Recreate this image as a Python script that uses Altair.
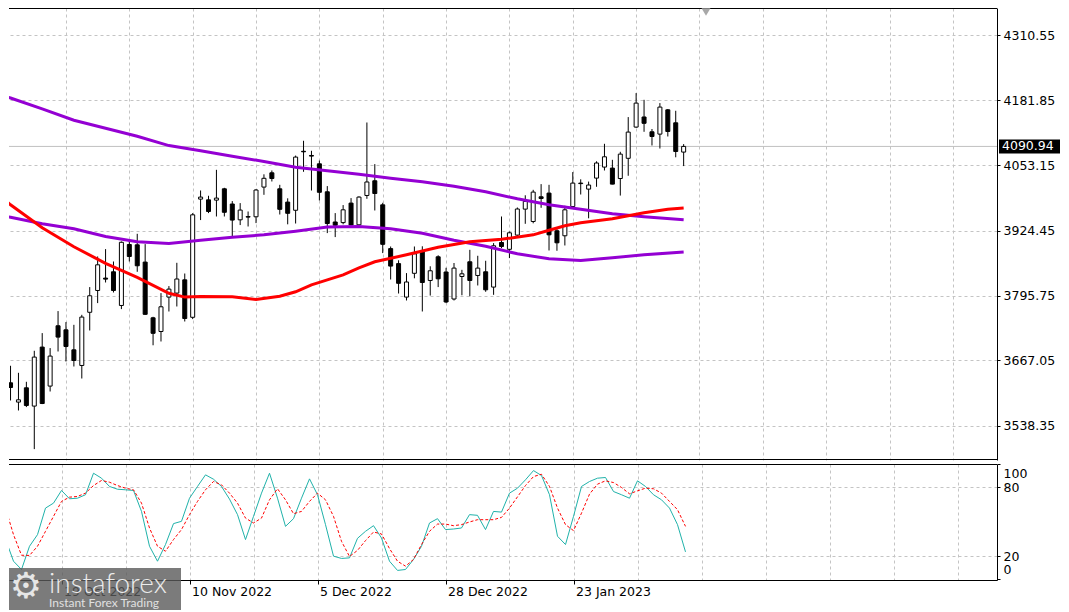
import altair as alt
import pandas as pd

# ---------------- data ----------------
bar_idx = list(range(86))
opens = [3622.9, 3584.7, 3613.0, 3576.8, 3693.6, 3616.4, 3735.8, 3727.8, 3688.2, 3657.2,
         3762.5, 3805.7, 3830.2, 3842.7, 3776.0, 3896.7, 3896.1, 3861.9, 3751.6, 3724.5,
         3792.6, 3800.5, 3826.8, 3752.6, 3986.6, 3985.2, 3984.6, 4007.0, 3976.9, 3945.6,
         3952.0, 3951.6, 4010.4, 4038.7, 4007.0, 3980.7, 3964.5, 4081.3, 4073.0, 4056.5,
         4001.1, 3941.3, 3940.1, 3978.7, 3935.7, 3993.8, 4022.9, 3975.3, 3888.6, 3858.9,
         3792.6, 3839.7, 3884.3, 3825.5, 3872.4, 3842.3, 3788.8, 3833.4, 3862.5, 3835.4,
         3842.7, 3812.4, 3900.7, 3887.2, 3915.3, 3966.8, 3942.3, 3991.2, 3998.5, 3923.9,
         3914.0, 3972.0, 4018.3, 4006.4, 4028.2, 4050.0, 4048.0, 4027.4, 4067.4, 4129.2,
         4149.2, 4119.9, 4115.3, 4163.4, 4137.7, 4079.7]
highs = [3656.6, 3642.7, 3624.9, 3686.3, 3721.3, 3691.6, 3764.9, 3743.1, 3737.7, 3757.5,
         3812.4, 3873.0, 3887.6, 3863.1, 3902.7, 3906.0, 3917.9, 3897.5, 3753.6, 3800.5,
         3814.4, 3860.5, 3839.3, 3958.9, 4003.7, 3993.2, 4044.6, 4009.0, 3982.7, 3978.7,
         3962.1, 4006.4, 4035.7, 4043.3, 4014.9, 3988.2, 4072.8, 4102.1, 4082.3, 4062.9,
         4012.4, 3958.9, 3974.8, 3988.6, 3992.2, 4138.3, 4055.9, 3979.3, 3892.8, 3865.5,
         3840.1, 3892.8, 3893.2, 3853.6, 3875.4, 3850.6, 3860.1, 3846.6, 3886.2, 3874.4,
         3864.5, 3899.5, 3952.2, 3922.5, 3970.0, 3994.2, 4005.0, 4016.3, 4014.9, 3929.8,
         3973.4, 4040.1, 4025.8, 4021.3, 4061.5, 4096.1, 4064.4, 4080.3, 4149.0, 4196.5,
         4183.2, 4125.4, 4176.7, 4165.0, 4161.5, 4095.5]
lows = [3587.9, 3568.1, 3574.8, 3491.6, 3580.7, 3605.7, 3684.9, 3665.1, 3655.2, 3631.4,
        3726.5, 3780.7, 3821.5, 3801.7, 3768.8, 3863.1, 3842.7, 3757.5, 3697.2, 3704.7,
        3764.1, 3774.0, 3744.3, 3749.0, 3945.1, 3958.9, 3952.2, 3952.2, 3913.4, 3935.2,
        3932.4, 3939.1, 3995.1, 4021.5, 3956.1, 3936.7, 3938.3, 4040.7, 4003.6, 3983.9,
        3919.3, 3911.4, 3936.7, 3933.8, 3933.8, 3987.2, 3964.1, 3879.7, 3827.4, 3799.7,
        3785.9, 3829.8, 3764.1, 3795.6, 3812.4, 3780.7, 3785.9, 3796.2, 3794.2, 3815.6,
        3803.1, 3797.1, 3889.6, 3869.8, 3911.0, 3937.7, 3938.7, 3969.4, 3884.9, 3884.3,
        3894.8, 3968.4, 3995.7, 3948.6, 4011.0, 4043.3, 4015.9, 3993.6, 4032.8, 4127.8,
        4119.9, 4092.8, 4086.8, 4110.6, 4069.4, 4052.0]
closes = [3613.6, 3589.2, 3578.0, 3673.8, 3581.9, 3675.8, 3713.4, 3694.8, 3667.1, 3753.0,
          3795.2, 3856.5, 3828.2, 3805.7, 3901.1, 3873.0, 3854.6, 3758.5, 3720.9, 3773.4,
          3808.4, 3828.4, 3750.2, 3955.5, 3990.6, 3962.1, 3988.6, 3960.5, 3945.1, 3964.9,
          3951.0, 4004.6, 4027.8, 4027.4, 3966.4, 3958.5, 4069.8, 4080.3, 4071.8, 4000.1,
          3938.3, 3934.8, 3965.4, 3935.3, 3990.6, 4020.5, 3997.7, 3897.1, 3854.0, 3819.9,
          3822.5, 3878.3, 3821.5, 3844.7, 3828.8, 3782.9, 3850.0, 3838.7, 3825.5, 3850.0,
          3807.0, 3894.2, 3892.8, 3919.9, 3967.0, 3981.9, 4000.5, 3987.8, 3915.9, 3900.1,
          3965.4, 4018.3, 4017.3, 4014.5, 4058.1, 4070.4, 4016.3, 4075.7, 4119.3, 4176.7,
          4136.7, 4110.6, 4168.8, 4120.5, 4080.9, 4090.94]

red_idx = [-1, 0, 4, 8, 12, 16, 20, 22, 24, 28, 31, 34, 36, 38, 40, 42, 44, 46, 50, 54,
           58, 62, 66, 68, 70, 72, 76, 80, 83, 85]
red_ma = [3989.2, 3975.3, 3929.8, 3892.2, 3859.5, 3831.8, 3800.1, 3792.6, 3793.8, 3793.2,
          3787.8, 3794.2, 3803.1, 3816.9, 3826.8, 3836.7, 3850.6, 3862.5, 3876.3, 3891.2,
          3902.1, 3907.0, 3915.9, 3924.9, 3933.8, 3939.7, 3947.6, 3959.5, 3966.4, 3968.8]

purple_idx = [-1, 0, 4, 8, 12, 16, 20, 24, 28, 32, 36, 40, 44, 48, 52, 56, 60, 64, 68, 72,
              76, 80, 85]
purple_upper = [4192.2, 4186.8, 4165.4, 4142.7, 4126.8, 4111.0, 4092.6, 4082.3, 4071.4,
                4061.1, 4049.6, 4042.7, 4035.7, 4027.8, 4020.9, 4012.0, 4001.1, 3987.2,
                3975.3, 3966.4, 3957.5, 3951.6, 3945.6]
purple_lower = [3953.6, 3950.6, 3937.7, 3927.8, 3912.6, 3902.1, 3898.5, 3905.1, 3911.0,
                3915.9, 3922.9, 3931.2, 3932.4, 3927.8, 3918.9, 3905.1, 3893.2, 3878.3,
                3868.4, 3865.1, 3870.4, 3876.3, 3881.7]

sto_idx = list(range(-1, 86))
sto_main = [56.4, 35.0, 15.9, 8.7, 28.9, 39.0, 62.1, 66.4, 77.4, 70.2,
            70.7, 73.7, 92.4, 88.1, 80.9, 78.5, 78.0, 77.4, 59.2, 28.9,
            15.9, 30.4, 48.6, 50.6, 70.7, 80.9, 91.0, 87.2, 80.9, 69.9,
            56.4, 34.7, 54.9, 75.1, 92.4, 70.7, 46.2, 52.9, 70.7, 87.5,
            73.7, 47.7, 20.3, 18.3, 18.8, 35.8, 41.9, 46.8, 36.1, 15.9,
            7.9, 8.7, 17.4, 28.9, 49.1, 52.9, 43.4, 43.9, 44.8, 56.4,
            55.8, 43.4, 59.2, 58.6, 75.1, 79.4, 86.7, 94.7, 90.4, 73.7,
            37.6, 30.4, 54.9, 80.9, 85.2, 88.1, 88.7, 76.5, 73.7, 70.7,
            85.8, 80.9, 73.7, 69.3, 62.1, 47.7, 24.0]
sto_signal = [73.7, 62.1, 39.0, 21.1, 20.9, 28.9, 41.9, 54.9, 67.9, 71.6,
              72.2, 75.1, 81.7, 86.1, 84.6, 81.7, 79.4, 78.0, 66.4, 44.8,
              28.9, 24.6, 34.7, 43.4, 56.4, 67.9, 78.0, 85.2, 82.3, 75.1,
              66.4, 53.4, 49.1, 53.4, 69.3, 78.9, 69.3, 57.2, 59.2, 67.9,
              75.1, 69.3, 54.9, 33.2, 20.0, 25.3, 33.8, 41.3, 39.6, 26.9,
              15.9, 11.6, 17.4, 30.4, 41.9, 48.2, 48.2, 46.8, 47.7, 50.0,
              52.0, 52.0, 52.0, 54.0, 62.1, 71.9, 81.7, 89.5, 91.5, 80.9,
              62.1, 47.7, 42.5, 57.7, 74.2, 82.9, 85.8, 84.3, 80.0, 74.5,
              77.1, 79.4, 78.9, 75.1, 67.9, 60.7, 46.2]

price_ticks = [3538.35, 3667.05, 3795.75, 3924.45, 4053.15, 4181.85, 4310.55]
sto_ticks = [0, 20, 80, 100]
grid_idx = list(range(7, 124, 8))
date_idx = [7, 23, 39, 55, 71]
date_labels = ["19 Oct 2022", "10 Nov 2022", "5 Dec 2022", "28 Dec 2022", "23 Jan 2023"]
last_price = 4090.94

# ---------------- layout / style ----------------
FONT = "DejaVu Sans"
FS = 12.5
W, HM, HS = 988, 452, 116
GRID = "#c4c4c4"

xs = alt.Scale(domain=[0.4375, 123.9375], nice=False, zero=False)
ys = alt.Scale(domain=[3470.04, 4365.0], nice=False, zero=False)
ss = alt.Scale(domain=[-0.44, 100.43], nice=False, zero=False)

grid_kw = dict(gridColor=GRID, gridDash=[3, 3], gridWidth=1)

x_main_axis = alt.Axis(values=grid_idx, grid=True, labels=False, ticks=False,
                       domain=False, title=None, **grid_kw)
y_main_axis = alt.Axis(orient="right", values=price_ticks, format=".2f", grid=True,
                       domain=True, domainColor="black", ticks=True, tickSize=3,
                       tickColor="black", labelPadding=3, labelFont=FONT,
                       labelFontSize=FS, labelColor="black", title=None,
                       labelFlush=False, labelOverlap=False, **grid_kw)

label_expr = "".join(f"datum.value == {v} ? '{t}' : " for v, t in zip(date_idx, date_labels)) + "''"
date_test = "indexof([" + ",".join(str(v) for v in date_idx) + "], datum.value) >= 0"

x_sto_axis = alt.Axis(values=grid_idx, grid=True, labels=True, labelExpr=label_expr,
                      labelAlign="left", labelBaseline="top", labelOffset=2, labelPadding=1,
                      labelFont=FONT, labelFontSize=FS, labelColor="black",
                      ticks=True, tickSize=4, tickColor="black",
                      tickOpacity={"condition": {"test": date_test, "value": 1}, "value": 0},
                      domain=True, domainColor="black", title=None,
                      labelFlush=False, labelOverlap=False, labelBound=False, **grid_kw)
y_sto_axis = alt.Axis(orient="right", values=sto_ticks, format="d", grid=True,
                      gridOpacity={"condition": {"test": "datum.value == 20 || datum.value == 80",
                                                 "value": 1}, "value": 0},
                      domain=True, domainColor="black", ticks=True, tickSize=3,
                      tickColor="black", labelPadding=3, labelFont=FONT,
                      labelFontSize=FS, labelColor="black", title=None,
                      labelFlush=2, labelFlushOffset=-3, labelOverlap=False,
                      gridColor=GRID, gridDash=[3, 3], gridWidth=1)

X = alt.X("i:Q", scale=xs, axis=x_main_axis)
XS = alt.X("i:Q", scale=xs, axis=x_sto_axis)

candles = pd.DataFrame({"i": bar_idx, "open": opens, "high": highs,
                        "low": lows, "close": closes})
red_df = pd.DataFrame({"i": red_idx, "v": red_ma})
pu_df = pd.DataFrame({"i": purple_idx, "up": purple_upper, "lo": purple_lower})
sto_df = pd.DataFrame({"i": sto_idx, "main": sto_main, "signal": sto_signal})
dummy = pd.DataFrame({"a": [0]})

price_line = alt.Chart(dummy).mark_rule(color="#c0c0c0", strokeWidth=1).encode(
    y=alt.Y(datum=last_price, type="quantitative", scale=ys, axis=y_main_axis))

wicks = alt.Chart(candles).mark_rule(color="black", strokeWidth=1, clip=True).encode(
    x=X, y=alt.Y("low:Q", scale=ys, axis=y_main_axis), y2="high:Q")

bodies = alt.Chart(candles).mark_bar(size=4, stroke="black", strokeWidth=1, clip=True).encode(
    x=X, y=alt.Y("open:Q", scale=ys, axis=y_main_axis), y2="close:Q",
    fill=alt.condition("datum.close >= datum.open", alt.value("white"), alt.value("black")))

pu_up = alt.Chart(pu_df).mark_line(color="#9400d3", strokeWidth=3, clip=True).encode(
    x=X, y=alt.Y("up:Q", scale=ys, axis=y_main_axis))
pu_lo = alt.Chart(pu_df).mark_line(color="#9400d3", strokeWidth=3, clip=True).encode(
    x=X, y=alt.Y("lo:Q", scale=ys, axis=y_main_axis))
red = alt.Chart(red_df).mark_line(color="#ff0000", strokeWidth=3, clip=True).encode(
    x=X, y=alt.Y("v:Q", scale=ys, axis=y_main_axis))

top_border = alt.Chart(dummy).mark_rule(color="black", strokeWidth=1).encode(
    x=alt.value(0), x2=alt.value(W), y=alt.value(0.5))
bottom_border = alt.Chart(dummy).mark_rule(color="black", strokeWidth=1).encode(
    x=alt.value(0), x2=alt.value(W), y=alt.value(HM - 0.5))
marker = alt.Chart(dummy).mark_point(shape="triangle-down", filled=True, color="#a8a8a8",
                                     size=80, opacity=1).encode(
    x=alt.value(697), y=alt.value(4))

box = alt.Chart(dummy).mark_rect(color="black").encode(
    x=alt.value(990), x2=alt.value(1051),
    y=alt.Y(datum=last_price + 13.9, type="quantitative", scale=ys, axis=y_main_axis),
    y2=alt.Y2(datum=last_price - 13.9))
box_text = alt.Chart(dummy).mark_text(align="left", baseline="middle", color="white",
                                      font=FONT, fontSize=FS).encode(
    x=alt.value(993),
    y=alt.Y(datum=last_price, type="quantitative", scale=ys, axis=y_main_axis),
    text=alt.value(f"{last_price:.2f}"))

main = alt.layer(price_line, wicks, bodies, pu_up, pu_lo, red, top_border, bottom_border,
                 marker, box, box_text).properties(width=W, height=HM)

teal = alt.Chart(sto_df).mark_line(color="#20b2aa", strokeWidth=1, clip=True).encode(
    x=XS, y=alt.Y("main:Q", scale=ss, axis=y_sto_axis))
signal = alt.Chart(sto_df).mark_line(color="#ff0000", strokeWidth=1, strokeDash=[3, 2],
                                     clip=True).encode(
    x=XS, y=alt.Y("signal:Q", scale=ss, axis=y_sto_axis))
sto_top = alt.Chart(dummy).mark_rule(color="black", strokeWidth=1).encode(
    x=alt.value(0), x2=alt.value(W), y=alt.value(0.5))

wm_rect = alt.Chart(dummy).mark_rect(color="#5a5a5a", opacity=0.8).encode(
    x=alt.value(0), x2=alt.value(172), y=alt.value(104), y2=alt.value(146))
wm_gear = alt.Chart(dummy).mark_text(text="\u2699", fontSize=36, color="#e6e6e6",
                                     align="center", baseline="middle", font=FONT).encode(
    x=alt.value(17), y=alt.value(123))
wm_name = alt.Chart(dummy).mark_text(text="instaforex", fontSize=28, color="#ececec",
                                     align="left", baseline="alphabetic", font="Lato",
                                     fontWeight=300).encode(
    x=alt.value(40), y=alt.value(129))
wm_sub = alt.Chart(dummy).mark_text(text="Instant Forex Trading", fontSize=12,
                                    color="#e0e0e0", align="left", baseline="alphabetic",
                                    font="Lato").encode(
    x=alt.value(40), y=alt.value(143))

sto = alt.layer(teal, signal, sto_top, wm_rect, wm_gear, wm_name, wm_sub).properties(
    width=W, height=HS)

chart = alt.vconcat(main, sto, spacing=3).properties(
    padding=0, background="white"
).configure_view(stroke=None).configure_axis(labelFont=FONT, labelFontSize=FS)

chart.save("out.html", embed_options={"renderer": "svg", "actions": False})
